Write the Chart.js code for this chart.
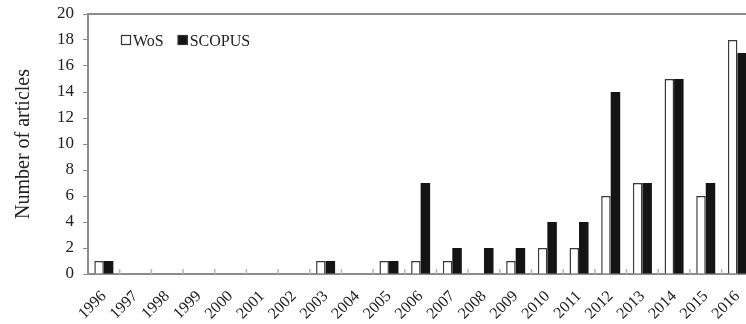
<!DOCTYPE html>
<html>
<head>
<meta charset="utf-8">
<script src="https://cdn.jsdelivr.net/npm/chart.js@4"></script>
<style>
html,body{margin:0;padding:0;background:#fff;overflow:hidden;}
#wrap{position:relative;width:764px;height:324px;}
</style>
</head>
<body>
<div id="wrap"><canvas id="c"></canvas></div>
<script>
const years = ['1996','1997','1998','1999','2000','2001','2002','2003','2004','2005','2006','2007','2008','2009','2010','2011','2012','2013','2014','2015','2016'];
const wosValues    = [1,0,0,0,0,0,0,1,0,1,1,1,0,1,2,2,6,7,15,6,18];
const scopusValues = [1,0,0,0,0,0,0,1,0,1,7,2,2,2,4,4,14,7,15,7,17];
const yTicks = [0,2,4,6,8,10,12,14,16,18,20];
const seriesNames = ['WoS','SCOPUS'];

const FONT = '"Liberation Serif", "Times New Roman", serif';
const AXIS = '#8c8c8c';

const decor = {
  id: 'decor',
  afterDraw(chart) {
    const ctx = chart.ctx, a = chart.chartArea, xs = chart.scales.x;
    ctx.save();
    // top border
    ctx.strokeStyle = AXIS; ctx.lineWidth = 2;
    ctx.beginPath(); ctx.moveTo(a.left - 1, a.top); ctx.lineTo(a.right + 10, a.top); ctx.stroke();
    // inward x ticks at category boundaries
    ctx.strokeStyle = '#b5b5b5'; ctx.lineWidth = 1.5;
    for (let i = 1; i < years.length; i++) {
      const x = (xs.getPixelForValue(i - 1) + xs.getPixelForValue(i)) / 2;
      ctx.beginPath(); ctx.moveTo(x, a.bottom); ctx.lineTo(x, a.bottom - 5); ctx.stroke();
    }
    // legend
    ctx.font = '16px ' + FONT;
    ctx.textBaseline = 'alphabetic';
    let lx = a.left + 33;
    const ly = a.top + 21;
    const ds = chart.data.datasets;
    for (let i = 0; i < ds.length; i++) {
      ctx.fillStyle = ds[i].backgroundColor;
      ctx.strokeStyle = '#333'; ctx.lineWidth = 1.2;
      ctx.fillRect(lx, ly, 10, 10);
      ctx.strokeRect(lx + 0.5, ly + 0.5, 9, 9);
      ctx.fillStyle = '#222';
      ctx.fillText(seriesNames[i], lx + 12, ly + 11);
      lx += 12 + ctx.measureText(seriesNames[i]).width + 14;
    }
    ctx.restore();
  }
};

new Chart(document.getElementById('c'), {
  type: 'bar',
  data: {
    labels: years,
    datasets: [
      { label: seriesNames[0], data: wosValues, backgroundColor: '#ffffff', borderColor: '#3a3a3a', borderWidth: 1.5, categoryPercentage: 0.6, barPercentage: 1.0 },
      { label: seriesNames[1], data: scopusValues, backgroundColor: '#141414', borderColor: '#141414', borderWidth: 0, categoryPercentage: 0.6, barPercentage: 1.0 }
    ]
  },
  options: {
    responsive: true,
    maintainAspectRatio: false,
    animation: false,
    layout: { padding: { top: 14, left: 0, right: 0, bottom: 0 } },
    plugins: { legend: { display: false }, tooltip: { enabled: false } },
    scales: {
      x: {
        grid: { display: false, drawTicks: false },
        border: { display: true, color: AXIS, width: 2 },
        ticks: { color: '#222', font: { family: FONT, size: 16 }, maxRotation: 45, minRotation: 45, padding: 13, autoSkip: false },
        afterFit(s) { s.height = 50; }
      },
      y: {
        min: 0, max: 20,
        afterBuildTicks(s) { s.ticks = yTicks.map(v => ({ value: v })); },
        grid: { drawOnChartArea: false, drawTicks: true, tickLength: 5, color: AXIS, lineWidth: 1 },
        border: { display: true, color: AXIS, width: 2 },
        ticks: { color: '#222', font: { family: FONT, size: 17 }, padding: 9 },
        title: { display: true, text: 'Number of articles', color: '#222', font: { family: FONT, size: 20 }, padding: { top: 12, bottom: 8 } },
        afterFit(s) { s.width = 88; s.paddingTop = 0; s.paddingBottom = 0; }
      }
    }
  },
  plugins: [decor]
});
</script>
</body>
</html>
